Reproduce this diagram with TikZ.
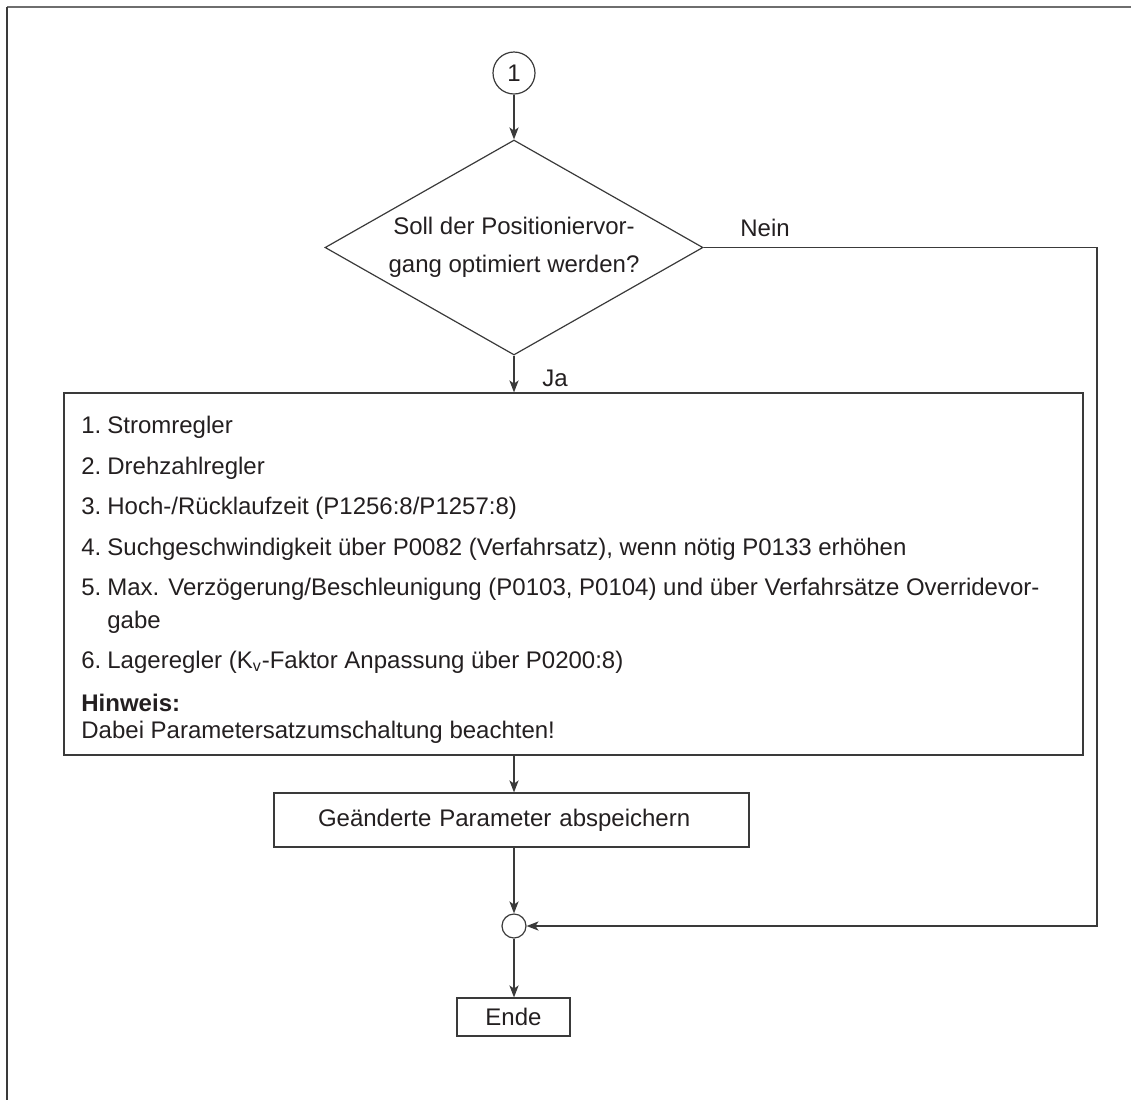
\documentclass[tikz,border=0pt]{standalone}
\usepackage{fontspec}
\setmainfont{Liberation Sans}
\usetikzlibrary{positioning,calc,arrows.meta,shapes.geometric}
\definecolor{ink}{HTML}{231F20}
\definecolor{rulec}{HTML}{3A3A3A}
\definecolor{framec}{HTML}{6E6E6E}
\newcommand{\fsz}{\fontsize{12}{19}\selectfont}
\tikzset{
  wire/.style  = {line width=0.65pt, draw=rulec,
                  -{Stealth[length=6pt,width=4.6pt,inset=1.6pt]}},
  conn/.style  = {circle, draw=rulec, line width=0.6pt, inner sep=0pt,
                  minimum size=21pt, font=\fsz, text=ink},
  jdot/.style  = {circle, draw=rulec, line width=0.6pt, inner sep=0pt,
                  minimum size=12pt},
  dbox/.style  = {diamond, draw=rulec, line width=0.6pt, inner sep=0pt,
                  aspect=1.76, minimum width=189pt, minimum height=107.5pt,
                  align=center, font=\fsz, text=ink},
  pbox/.style  = {draw=rulec, line width=0.6pt, inner sep=0pt, font=\fsz,
                  text=ink},
  txt/.style   = {font=\fsz, text=ink, inner sep=0pt, anchor=base west},
  lbl/.style   = {font=\fsz, text=ink, inner sep=0pt, anchor=base west},
}

\begin{document}
\begin{tikzpicture}[x=0.5pt,y=-0.5pt]
  \useasboundingbox (0,0) rectangle (1131,1100);
  % page frame
  \draw[draw=framec, line width=1pt] (7,7) -- (1131,7);
  \draw[draw=rulec, line width=1pt] (7,7) -- (7,1100);

  \node[conn] (start) at (514,73) {1};
  \node[dbox] (dec) at (514,247.5)
    {Soll der Positioniervor-\\gang optimiert werden?};
  \node[lbl] (nein) at (740,236) {Nein};
  \node[lbl] (ja) at (542,386) {Ja};

  % optimisation steps
  \node[pbox, minimum width=509.5pt, minimum height=181pt] (steps)
    at (573.5,574) {};
  \node[txt] (n1) at (81,433) {1.};
  \node[txt] (t1) at (107,433) {Stromregler};
  \node[txt] (n2) at (81,474) {2.};
  \node[txt] (t2) at (107,474) {Drehzahlregler};
  \node[txt] (n3) at (81,514) {3.};
  \node[txt] (t3) at (107,514) {Hoch-/Rücklaufzeit (P1256:8/P1257:8)};
  \node[txt] (n4) at (81,555) {4.};
  \node[txt] (t4) at (107,555)
    {Suchgeschwindigkeit über P0082 (Verfahrsatz), wenn nötig P0133 erhöhen};
  \node[txt] (n5) at (81,595) {5.};
  \node[txt] (t5) at (107,595)
    {Max. Verzögerung/Beschleunigung (P0103, P0104) und über Verfahrsätze Overridevor-};
  \node[txt] (t5b) at (107,628) {gabe};
  \node[txt] (n6) at (81,668) {6.};
  \node[txt] (t6) at (107,668)
    {Lageregler (K\textsubscript{v}-Faktor Anpassung über P0200:8)};
  \node[txt] (hint) at (81,711) {\bfseries Hinweis:};
  \node[txt] (hintt) at (81,738) {Dabei Parametersatzumschaltung beachten!};

  \node[pbox, minimum width=237.5pt, minimum height=27pt, inner xsep=22pt,
        text width=193.5pt, align=left] (save) at (511.5,820)
    {Geänderte Parameter abspeichern};
  \node[jdot] (join) at (514,926) {};
  \node[pbox, minimum width=56.5pt, minimum height=19pt] (stop)
    at (513.5,1017) {Ende};
  \coordinate (bend) at (1097,247.5);

  % connectors
  \draw[wire] (start) -- (dec);
  \draw[wire] (dec.south) -- (dec.south |- steps.north);
  \draw[wire] (dec.south |- steps.south) -- (dec.south |- save.north);
  \draw[wire] (join |- save.south) -- (join);
  \draw[wire] (join) -- (join |- stop.north);
  \draw[wire] (dec.east) -- (bend) |- (join);
\end{tikzpicture}
\end{document}
